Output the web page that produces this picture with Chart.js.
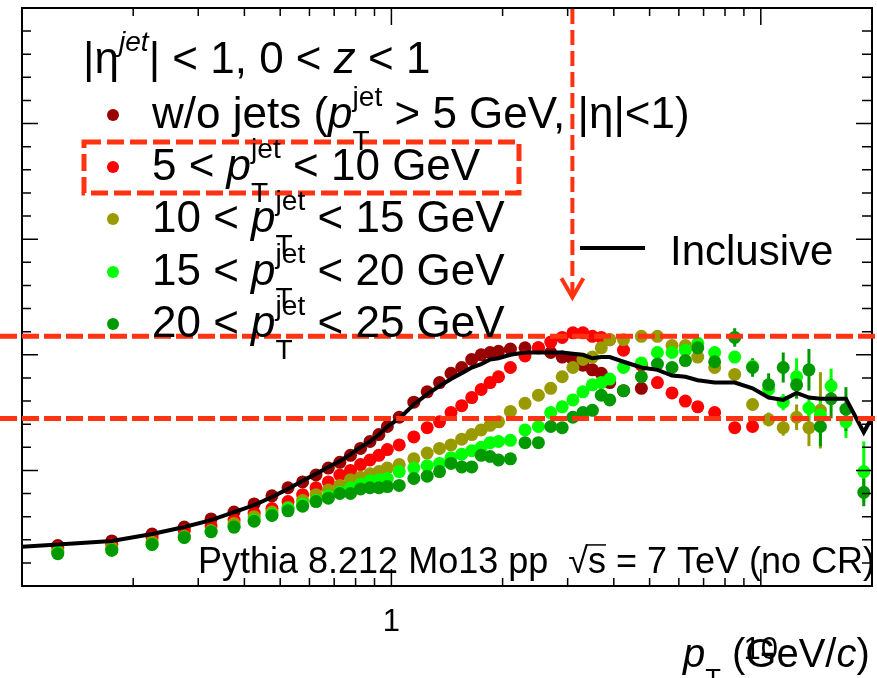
<!DOCTYPE html>
<html><head><meta charset="utf-8">
<script src="https://cdn.jsdelivr.net/npm/chart.js@4/dist/chart.umd.min.js"></script>
<style>html,body{margin:0;padding:0;background:#fff;}#wrap{width:877px;height:678px;position:relative;}</style>
</head><body><div id="wrap"><canvas id="c" width="877" height="678"></canvas></div>
<script>
// ---------------- data ----------------
const ptBins = [0.125,0.175,0.225,0.275,0.325,0.375,0.425,0.475,0.525,0.575,0.625,0.675,0.725,0.775,0.825,0.875,0.925,0.975,
  1.05,1.15,1.25,1.35,1.45,1.55,1.65,1.75,1.85,1.95,
  2.1,2.3,2.5,2.7,2.9,3.1,3.3,3.5,3.7,3.9,
  4.25,4.75,5.25,5.75,6.25,6.75,
  7.5,8.5,9.5,10.5,11.5,12.5,13.5,14.5,15.5,17,19];
const woJets = [0.35,0.39,0.45,0.51,0.58,0.64,0.71,0.78,0.85,0.90,0.96,1.02,1.07,1.13,1.19,1.25,1.31,1.38,
  1.46,1.59,1.68,1.76,1.84,1.89,1.96,2.00,2.02,2.03,
  2.05,2.06,2.06,2.02,1.98,1.96,1.91,1.87,1.84,1.76,
  1.69,1.71];
const jet5to10 = [0.33,0.36,0.42,0.48,0.52,0.57,0.63,0.67,0.73,0.79,0.85,0.90,0.96,1.00,1.05,1.09,1.13,1.18,
  1.22,1.29,1.37,1.42,1.50,1.56,1.63,1.70,1.76,1.81,
  1.89,1.99,2.06,2.11,2.15,2.19,2.19,2.16,2.15,2.13,
  2.04,1.91,1.76,1.67,1.60,1.55,
  1.50,1.37,1.38];
const jet10to15 = [0.30,0.33,0.38,0.43,0.48,0.54,0.60,0.64,0.68,0.74,0.79,0.83,0.87,0.92,0.94,0.97,0.99,1.02,
  1.05,1.10,1.15,1.19,1.22,1.27,1.31,1.35,1.39,1.42,
  1.51,1.58,1.65,1.71,1.81,1.89,1.96,1.98,2.06,2.13,
  2.13,2.16,2.16,2.08,2.08,1.98,
  1.89,1.83,1.57,1.44,1.37,1.46,1.37,1.52];
const jet15to20 = [0.29,0.31,0.36,0.42,0.47,0.51,0.57,0.62,0.67,0.71,0.74,0.78,0.81,0.85,0.88,0.91,0.92,0.93,
  0.99,1.02,1.04,1.06,1.11,1.14,1.17,1.20,1.24,1.25,
  1.26,1.35,1.38,1.50,1.55,1.61,1.68,1.74,1.76,1.79,
  1.89,1.93,2.02,2.02,2.04,2.10,
  2.02,1.98,1.90,1.70,1.59,1.81,1.54,1.48,1.73,1.42,0.99];
const jet20to25 = [0.28,0.31,0.36,0.42,0.47,0.51,0.56,0.61,0.65,0.69,0.73,0.76,0.80,0.80,0.84,0.85,0.85,0.86,
  0.87,0.93,0.95,0.99,1.06,1.03,1.03,1.13,1.12,1.09,
  1.10,1.24,1.24,1.38,1.37,1.46,1.50,1.52,1.65,1.61,
  1.69,1.81,1.92,1.89,1.95,2.06,
  1.94,2.15,1.89,1.74,1.89,1.74,1.87,1.38,1.62,1.53,0.81];
// statistical errors (±) from the 7.5 GeV/c bin upward
const errFirstBin = 44;
const err10to15 = [0.03,0.04,0.05,0.06,0.07,0.11,0.16,0.33];
const err15to20 = [0.03,0.04,0.05,0.06,0.07,0.16,0.10,0.12,0.15,0.14,0.26];
const err20to25 = [0.04,0.08,0.08,0.10,0.13,0.12,0.18,0.17,0.17,0.19,0.12];
const inclusivePt = [0.1,0.125,0.175,0.225,0.275,0.325,0.375,0.425,0.475,0.525,0.575,0.625,0.675,0.725,0.775,0.825,0.875,0.925,0.975,
  1.05,1.15,1.25,1.35,1.45,1.55,1.65,1.75,1.85,1.95,
  2.1,2.3,2.5,2.7,2.9,3.1,3.3,3.5,3.7,3.9,
  4.25,4.75,5.25,5.75,6.25,6.75,
  7.5,8.5,9.5,10.5,11.5,12.5,13.5,14.5,15.5,17,19,20];
const inclusive = [0.34,0.36,0.39,0.45,0.51,0.57,0.64,0.70,0.77,0.84,0.91,0.97,1.03,1.08,1.14,1.20,1.25,1.31,1.38,
  1.45,1.57,1.66,1.73,1.79,1.84,1.89,1.92,1.96,1.97,
  2.00,2.02,2.02,2.02,2.02,2.01,2.00,1.97,1.98,1.98,
  1.94,1.89,1.87,1.82,1.81,1.78,
  1.76,1.76,1.71,1.63,1.61,1.67,1.63,1.62,1.62,1.62,1.33,1.46];
const xTickValues = [0.1,0.2,0.3,0.4,0.5,0.6,0.7,0.8,0.9,1,2,3,4,5,6,7,8,9,10,20];
const xMajorTicks = [1,10];
const xTickLabels = {1:'1', 10:'10'};
const refLinesY = [2.16, 1.45];
const arrowPt = 3.09;
const arrowTipY = 2.49;

const seriesNames = ['w/o jets','5-10','10-15','15-20','20-25'];
const seriesColors = ['#990000','#ff0000','#999900','#00ff00','#009900'];
const FONT = '"Liberation Sans", Arial, Helvetica, sans-serif';
const DASH = '#ff3311';

function pts(xs, ys){ return ys.map((y,i)=>({x:xs[i], y:y})); }

// ---------------- helpers ----------------
function font(size, italic){ return (italic?'italic ':'') + size + 'px ' + FONT; }
function drawRich(ctx, x, y, runs, size){
  ctx.save();
  ctx.textBaseline = 'alphabetic';
  ctx.textAlign = 'left';
  ctx.fillStyle = '#000';
  for (const r of runs){
    if (r.sup !== undefined || r.sub !== undefined){
      const s = size*0.64;
      let w = 0;
      if (r.sup){ ctx.font = font(s, r.supIt); ctx.fillText(r.sup, x, y - size*0.5); w = Math.max(w, ctx.measureText(r.sup).width); }
      if (r.sub){ ctx.font = font(s, false); ctx.fillText(r.sub, x, y + size*0.5); w = Math.max(w, ctx.measureText(r.sub).width); }
      x += w;
    } else {
      ctx.font = font(size, r.it);
      ctx.fillText(r.t, x, y);
      const w = ctx.measureText(r.t).width;
      if (r.over){ ctx.lineWidth = 1.5; ctx.strokeStyle = '#000'; ctx.beginPath(); ctx.moveTo(x-2, y-size*0.78); ctx.lineTo(x+w, y-size*0.78); ctx.stroke(); }
      x += w;
    }
  }
  ctx.restore();
  return x;
}

const decorPlugin = {
  id: 'decor',
  beforeDatasetsDraw(chart){
    const {ctx, scales:{x, y}} = chart;
    const errs = [[2, err10to15],[3, err15to20],[4, err20to25]];
    const series = [woJets, jet5to10, jet10to15, jet15to20, jet20to25];
    ctx.save();
    ctx.lineWidth = 3;
    for (const [si, e] of errs){
      ctx.strokeStyle = seriesColors[si];
      e.forEach((d, k) => {
        const i = errFirstBin + k;
        const v = series[si][i];
        if (v === undefined) return;
        const px = x.getPixelForValue(ptBins[i]);
        ctx.beginPath();
        ctx.moveTo(px, y.getPixelForValue(v - d));
        ctx.lineTo(px, y.getPixelForValue(v + d));
        ctx.stroke();
      });
    }
    ctx.restore();
  },
  afterDatasetsDraw(chart){
    const {ctx, chartArea:a, scales:{x, y}} = chart;
    ctx.save();
    // frame
    ctx.strokeStyle = '#000';
    ctx.lineWidth = 2;
    ctx.strokeRect(a.left, a.top, a.right - a.left, a.bottom - a.top);
    // x ticks (bottom and top)
    ctx.lineWidth = 1.5;
    for (const v of xTickValues){
      const px = x.getPixelForValue(v);
      const len = xMajorTicks.includes(v) ? 17 : 8;
      ctx.beginPath();
      ctx.moveTo(px, a.bottom); ctx.lineTo(px, a.bottom - len);
      ctx.moveTo(px, a.top); ctx.lineTo(px, a.top + len);
      ctx.stroke();
    }
    // y ticks (left and right)
    for (let k = 0; k <= 25; k++){
      const v = k*0.2;
      const py = y.getPixelForValue(v);
      const major = (k % 5 === 0);
      ctx.beginPath();
      ctx.moveTo(a.left, py); ctx.lineTo(a.left + (major?16:9), py);
      ctx.moveTo(a.right, py); ctx.lineTo(a.right - (major?16:10), py);
      ctx.stroke();
    }
    // dashed reference lines
    ctx.strokeStyle = DASH;
    ctx.lineWidth = 5;
    ctx.setLineDash([17,5]);
    for (const v of refLinesY){
      const py = y.getPixelForValue(v);
      ctx.beginPath(); ctx.moveTo(0, py); ctx.lineTo(chart.width, py); ctx.stroke();
    }
    // vertical dashed arrow
    const ax = x.getPixelForValue(arrowPt);
    const ay = y.getPixelForValue(arrowTipY);
    ctx.lineWidth = 4;
    ctx.setLineDash([15,6]);
    ctx.beginPath(); ctx.moveTo(ax, a.top + 1); ctx.lineTo(ax, ay - 4); ctx.stroke();
    ctx.setLineDash([]);
    ctx.beginPath(); ctx.moveTo(ax - 11, ay - 20); ctx.lineTo(ax, ay - 1); ctx.lineTo(ax + 11, ay - 20); ctx.stroke();
    // dashed box around 2nd legend entry
    ctx.lineWidth = 5;
    ctx.setLineDash([17,6]);
    ctx.strokeRect(84, 142, 435, 51);
    ctx.setLineDash([]);

    // header
    drawRich(ctx, 83, 73, [{t:'|η'},{sup:'jet', supIt:true},{t:'| < 1, 0 < '},{t:'z', it:true},{t:' < 1'}], 44);
    // legend
    const ly = [115,167,219,272,324];
    const pj = {sup:'jet', sub:'T'};
    const texts = [
      [{t:'w/o jets ('},{t:'p', it:true},pj,{t:' > 5 GeV, |η|<1)'}],
      [{t:'5 < '},{t:'p', it:true},pj,{t:' < 10 GeV'}],
      [{t:'10 < '},{t:'p', it:true},pj,{t:' < 15 GeV'}],
      [{t:'15 < '},{t:'p', it:true},pj,{t:' < 20 GeV'}],
      [{t:'20 < '},{t:'p', it:true},pj,{t:' < 25 GeV'}]
    ];
    for (let i = 0; i < 5; i++){
      ctx.fillStyle = seriesColors[i];
      ctx.beginPath(); ctx.arc(113, ly[i], 6, 0, Math.PI*2); ctx.fill();
      drawRich(ctx, 152, ly[i] + 13, texts[i], 44);
    }
    // inclusive legend
    ctx.strokeStyle = '#000'; ctx.lineWidth = 4;
    ctx.beginPath(); ctx.moveTo(580, 248); ctx.lineTo(645, 248); ctx.stroke();
    drawRich(ctx, 670, 265, [{t:'Inclusive'}], 42);
    // generator label
    drawRich(ctx, 198, 573, [{t:'Pythia 8.212 Mo13 pp  √'},{t:'s', over:true},{t:' = 7 TeV (no CR)'}], 36);
    // axis title
    drawRich(ctx, 683, 667, [{t:'p', it:true},{sub:'T'},{t:' (GeV/'},{t:'c', it:true},{t:')'}], 40);
    ctx.restore();
  }
};

new Chart(document.getElementById('c'), {
  type: 'scatter',
  data: {
    datasets: [
      {label:'Inclusive', data: pts(inclusivePt, inclusive), showLine:true, borderColor:'#000', borderWidth:4, pointRadius:0, fill:false, tension:0},
      {label: seriesNames[4], data: pts(ptBins, jet20to25), backgroundColor: seriesColors[4], pointRadius:6.5, borderWidth:0},
      {label: seriesNames[3], data: pts(ptBins, jet15to20), backgroundColor: seriesColors[3], pointRadius:6.5, borderWidth:0},
      {label: seriesNames[2], data: pts(ptBins, jet10to15), backgroundColor: seriesColors[2], pointRadius:6.5, borderWidth:0},
      {label: seriesNames[1], data: pts(ptBins, jet5to10), backgroundColor: seriesColors[1], pointRadius:6.5, borderWidth:0},
      {label: seriesNames[0], data: pts(ptBins, woJets), backgroundColor: seriesColors[0], pointRadius:6.5, borderWidth:0}
    ]
  },
  options: {
    responsive: false,
    animation: false,
    events: [],
    layout: {autoPadding: false, padding: {left:22, right:5, top:8, bottom:0}},
    plugins: {legend:{display:false}, tooltip:{enabled:false}},
    scales: {
      x: {
        type: 'logarithmic', min: 0.1, max: 20,
        afterBuildTicks: (s) => { s.ticks = xTickValues.map(v => ({value: v, major: xMajorTicks.includes(v)})); },
        afterFit: (s) => { s.height = 92; s.paddingLeft = 0; s.paddingRight = 0; },
        grid: {display:false, drawTicks:false},
        border: {display:false},
        ticks: {
          autoSkip:false, maxRotation:0, minRotation:0, padding:18, color:'#000',
          callback: (v) => xTickLabels[v] || '',
          font: (c) => ({family: FONT, size: 31, lineHeight: (c.tick && c.tick.value === 10) ? 3.0 : 1.2})
        }
      },
      y: {type:'linear', min:0, max:5, display:false}
    }
  },
  plugins: [decorPlugin]
});
</script></body></html>
